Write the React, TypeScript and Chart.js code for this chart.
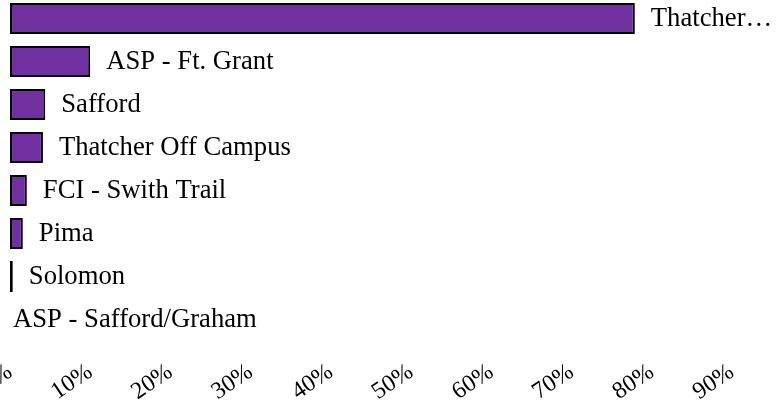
import React, { useEffect, useRef } from 'react';
import { Chart, registerables } from 'chart.js';

Chart.register(...registerables);

// ---- data ----
const categories: string[] = [
  'Thatcher Campus',
  'ASP - Ft. Grant',
  'Safford',
  'Thatcher Off Campus',
  'FCI - Swith Trail',
  'Pima',
  'Solomon',
  'ASP - Safford/Graham',
];
const shares: number[] = [77.9, 10.0, 4.4, 4.1, 2.1, 1.6, 0.35, 0];
const axisMax = 95;
const tickStep = 10;

const SERIF = '"Liberation Serif", "Times New Roman", serif';
const BAR_FILL = '#7030A0';

const barLabelPlugin = {
  id: 'barEndLabels',
  afterDatasetsDraw(chart: any) {
    const ctx: CanvasRenderingContext2D = chart.ctx;
    const meta = chart.getDatasetMeta(0);
    ctx.save();
    ctx.font = `26.67px ${SERIF}`;
    ctx.fillStyle = '#000';
    ctx.textAlign = 'left';
    ctx.textBaseline = 'middle';
    meta.data.forEach((el: any, i: number) => {
      const v = shares[i];
      const startX = v > 0 ? el.x + 16 : el.x + 3;
      const maxW = chart.width - startX - 1;
      let text = categories[i];
      if (ctx.measureText(text).width > maxW) {
        let t = text;
        while (t.length > 0 && ctx.measureText(t + '…').width > maxW) {
          t = t.slice(0, -1);
        }
        text = t.replace(/\s+$/, '') + '…';
      }
      ctx.fillText(text, startX, el.y);
    });
    ctx.restore();
  },
};

export default function App() {
  const ref = useRef<HTMLCanvasElement | null>(null);

  useEffect(() => {
    if (!ref.current) return;
    const chart = new Chart(ref.current, {
      type: 'bar',
      data: {
        labels: categories,
        datasets: [
          {
            data: shares,
            backgroundColor: BAR_FILL,
            borderColor: '#000',
            borderWidth: 2,
            borderSkipped: false,
          },
        ],
      },
      options: {
        indexAxis: 'y',
        responsive: false,
        animation: false,
        layout: { padding: { left: 60, right: 11, top: 0, bottom: 0 } },
        plugins: {
          legend: { display: false },
          tooltip: { enabled: false },
        },
        scales: {
          x: {
            type: 'linear',
            min: 0,
            max: axisMax,
            grid: { display: false, drawTicks: false },
            border: { display: false },
            ticks: {
              stepSize: tickStep,
              includeBounds: false,
              autoSkip: false,
              minRotation: 34,
              maxRotation: 34,
              padding: 17,
              color: '#000',
              font: { family: SERIF, size: 24 },
              callback: (v: any) => `${v}%`,
            },
            afterFit: (s: any) => {
              s.height = 62;
            },
          },
          y: { display: false },
        },
      },
      plugins: [barLabelPlugin],
    });
    return () => chart.destroy();
  }, []);

  return (
    <div
      style={{
        position: 'fixed',
        left: 0,
        top: 0,
        width: 783,
        height: 403,
        overflow: 'hidden',
        background: '#fff',
      }}
    >
      <div style={{ position: 'absolute', left: -50, top: -3, width: 833, height: 406 }}>
        <canvas ref={ref} width={833} height={406} style={{ display: 'block' }} />
      </div>
    </div>
  );
}
